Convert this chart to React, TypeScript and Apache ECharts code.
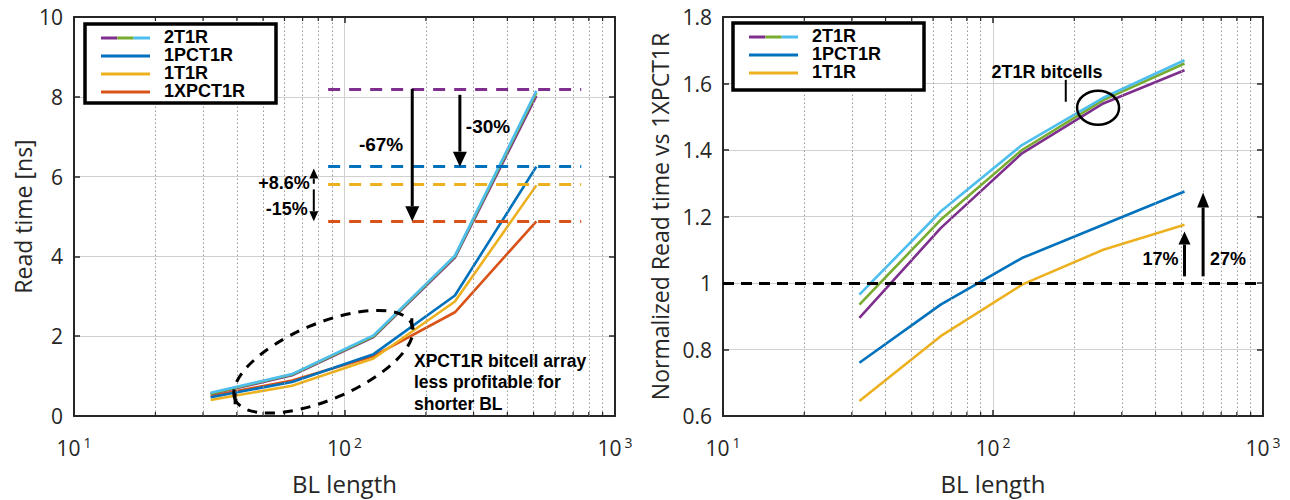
import React, { useEffect, useRef } from "react";
import * as echarts from "echarts";

// ---------- data ----------
const BL_LENGTH = [32, 64, 128, 256, 512];
const X_RANGE = [10, 1000];
const X_MINOR_GRID = [20, 30, 40, 50, 60, 70, 80, 90, 200, 300, 400, 500, 600, 700, 800, 900];

// left panel: read time [ns]
const READ_2T1R_PURPLE = [0.55, 1.02, 1.98, 3.97, 8.02];
const READ_2T1R_GREEN = [0.56, 1.04, 2.0, 4.0, 8.1];
const READ_2T1R_CYAN = [0.58, 1.05, 2.02, 4.02, 8.15];
const READ_1PCT1R = [0.47, 0.85, 1.55, 3.02, 6.25];
const READ_1T1R = [0.4, 0.76, 1.44, 2.87, 5.78];
const READ_1XPCT1R = [0.5, 0.89, 1.5, 2.6, 4.88];

// right panel: normalized read time vs 1XPCT1R
const NORM_2T1R_PURPLE = [0.895, 1.165, 1.39, 1.54, 1.64];
const NORM_2T1R_GREEN = [0.935, 1.19, 1.4, 1.55, 1.66];
const NORM_2T1R_CYAN = [0.965, 1.215, 1.415, 1.557, 1.67];
const NORM_1PCT1R = [0.76, 0.935, 1.075, 1.175, 1.275];
const NORM_1T1R = [0.645, 0.84, 0.995, 1.1, 1.175];

const LEFT_Y = [0, 10, 2];
const RIGHT_Y = [0.6, 1.8, 0.2];

// left reference levels (dashed) and their span in BL
const LEVEL_VALUES = [8.2, 6.25, 5.8, 4.88];
const LEVEL_SPAN = [87, 750];
const NORM_BASELINE = 1;

const COLORS = {
  purple: "#7E2F8E",
  green: "#77AC30",
  cyan: "#4DBEEE",
  blue: "#0072BD",
  yellow: "#EDB120",
  orange: "#D95319",
};
const LEVEL_COLORS = [COLORS.purple, COLORS.blue, COLORS.yellow, COLORS.orange];

const F = '"Open Sans", "Noto Sans", sans-serif';
const FB = '"Liberation Sans", Arial, sans-serif';
const AX = "#262626";

function makeX(gridIndex: number, bottom: boolean) {
  return {
    type: "log",
    logBase: 10,
    gridIndex,
    min: X_RANGE[0],
    max: X_RANGE[1],
    position: bottom ? "bottom" : "top",
    axisLine: { show: true, onZero: false, lineStyle: { color: AX, width: 2 } },
    axisTick: { show: true, inside: true, length: 6, lineStyle: { color: AX, width: 1.5 } },
    axisLabel: bottom
      ? {
          show: true,
          margin: 19,
          formatter: (v: number) => `{b|10}{s|${Math.round(Math.log10(v))}}`,
          rich: {
            b: { fontSize: 21, lineHeight: 22, fontFamily: F, color: AX, padding: [3, 0, 0, 0] },
            s: { fontSize: 14, lineHeight: 14, fontFamily: F, color: AX, verticalAlign: "top", padding: [0, 0, 0, 3] },
          },
        }
      : { show: false },
    splitLine: { show: bottom, lineStyle: { color: "#d0d0d0", width: 1 } },
    name: bottom ? "BL length" : "",
    nameLocation: "middle",
    nameGap: 55,
    nameTextStyle: { fontFamily: F, fontSize: 24, color: AX },
  };
}

function makeY(gridIndex: number, left: boolean, range: number[], name: string, nameGap: number) {
  return {
    type: "value",
    gridIndex,
    min: range[0],
    max: range[1],
    interval: range[2],
    position: left ? "left" : "right",
    axisLine: { show: true, onZero: false, lineStyle: { color: AX, width: 2 } },
    axisTick: { show: true, inside: true, length: 6, lineStyle: { color: AX, width: 1.5 } },
    axisLabel: left
      ? {
          show: true,
          margin: 11,
          fontSize: 21,
          fontFamily: F,
          color: AX,
          formatter: (v: number) => {
            const r = Math.round(v * 10) / 10;
            return Number.isInteger(r) ? String(r) : r.toFixed(1);
          },
        }
      : { show: false },
    splitLine: { show: left, lineStyle: { color: "#d0d0d0", width: 1 } },
    name: left ? name : "",
    nameLocation: "middle",
    nameGap,
    nameTextStyle: { fontFamily: F, fontSize: 23, color: AX },
  };
}

function lineSeries(name: string, vals: number[], color: string, ai: number) {
  return {
    type: "line",
    name,
    xAxisIndex: ai,
    yAxisIndex: ai,
    data: BL_LENGTH.map((b, i) => [b, vals[i]]),
    symbol: "none",
    showSymbol: false,
    silent: true,
    z: 3,
    lineStyle: { color, width: 2.6 },
    itemStyle: { color },
  };
}

function minorGrid(ai: number) {
  return {
    type: "line",
    xAxisIndex: ai,
    yAxisIndex: ai,
    data: [],
    silent: true,
    z: 1,
    markLine: {
      silent: true,
      symbol: ["none", "none"],
      label: { show: false },
      animation: false,
      lineStyle: { color: "#999", width: 1, type: [1.5, 2.5] },
      data: X_MINOR_GRID.map((v) => ({ xAxis: v })),
    },
  };
}

export default function App() {
  const ref = useRef<HTMLDivElement>(null);
  useEffect(() => {
    document.body.style.margin = "0";
    const chart = echarts.init(ref.current!, null, { renderer: "svg" });
    const option: any = {
      animation: false,
      backgroundColor: "#fff",
      grid: [
        { left: 74, top: 17, width: 541, height: 400, containLabel: false },
        { left: 723, top: 17, width: 540, height: 400, containLabel: false },
      ],
      xAxis: [makeX(0, true), makeX(0, false), makeX(1, true), makeX(1, false)],
      yAxis: [
        makeY(0, true, LEFT_Y, "Read time [ns]", 40),
        makeY(0, false, LEFT_Y, "", 0),
        makeY(1, true, RIGHT_Y, "Normalized Read time vs 1XPCT1R", 52),
        makeY(1, false, RIGHT_Y, "", 0),
      ],
      series: [
        minorGrid(0),
        minorGrid(2),
        {
          type: "line",
          xAxisIndex: 0,
          yAxisIndex: 0,
          data: [],
          silent: true,
          z: 2,
          markLine: {
            silent: true,
            symbol: ["none", "none"],
            label: { show: false },
            lineStyle: { width: 3, type: [12, 9] },
            data: LEVEL_VALUES.map((v, i) => [
              { coord: [LEVEL_SPAN[0], v], lineStyle: { color: LEVEL_COLORS[i], width: 3, type: [12, 9] } },
              { coord: [LEVEL_SPAN[1], v] },
            ]),
          },
        },
        {
          type: "line",
          xAxisIndex: 2,
          yAxisIndex: 2,
          data: [],
          silent: true,
          z: 2,
          markLine: {
            silent: true,
            symbol: ["none", "none"],
            label: { show: false },
            lineStyle: { color: "#000", width: 3, type: [11, 7] },
            data: [{ yAxis: NORM_BASELINE }],
          },
        },
        lineSeries("1XPCT1R", READ_1XPCT1R, COLORS.orange, 0),
        lineSeries("1T1R", READ_1T1R, COLORS.yellow, 0),
        lineSeries("1PCT1R", READ_1PCT1R, COLORS.blue, 0),
        lineSeries("2T1R a", READ_2T1R_PURPLE, COLORS.purple, 0),
        lineSeries("2T1R b", READ_2T1R_GREEN, COLORS.green, 0),
        lineSeries("2T1R c", READ_2T1R_CYAN, COLORS.cyan, 0),
        lineSeries("1T1R", NORM_1T1R, COLORS.yellow, 2),
        lineSeries("1PCT1R", NORM_1PCT1R, COLORS.blue, 2),
        lineSeries("2T1R a", NORM_2T1R_PURPLE, COLORS.purple, 2),
        lineSeries("2T1R b", NORM_2T1R_GREEN, COLORS.green, 2),
        lineSeries("2T1R c", NORM_2T1R_CYAN, COLORS.cyan, 2),
      ],
    };
    chart.setOption(option);

    const P = (side: number, x: number, y: number) =>
      chart.convertToPixel(side === 0 ? { xAxisIndex: 0, yAxisIndex: 0 } : { xAxisIndex: 2, yAxisIndex: 2 }, [x, y]) as number[];

    const g: any[] = [];
    const line = (x1: number, y1: number, x2: number, y2: number, stroke: string, w: number, dash?: number[]) =>
      g.push({ type: "line", z: 50, silent: true, shape: { x1, y1, x2, y2 }, style: { stroke, lineWidth: w, lineDash: dash } });
    const text = (t: string, x: number, y: number, size: number, align: string, vAlign = "middle", lh?: number) =>
      g.push({
        type: "text",
        z: 60,
        silent: true,
        style: {
          text: t, x, y, fontSize: size, fontWeight: "bold", fontFamily: FB, fill: "#000",
          align, textAlign: align, verticalAlign: vAlign, textVerticalAlign: vAlign, lineHeight: lh,
        },
      });
    const arrow = (p0: number[], p1: number[], head: number, half: number, w: number) => {
      const dx = p1[0] - p0[0], dy = p1[1] - p0[1];
      const L = Math.hypot(dx, dy);
      const ux = dx / L, uy = dy / L;
      const bx = p1[0] - ux * head, by = p1[1] - uy * head;
      const nx = -uy, ny = ux;
      line(p0[0], p0[1], bx, by, "#000", w);
      g.push({
        type: "polygon", z: 50, silent: true,
        shape: { points: [[p1[0], p1[1]], [bx + nx * half, by + ny * half], [bx - nx * half, by - ny * half]] },
        style: { fill: "#000" },
      });
    };

    // minor ticks on bottom/top edges
    [0, 1].forEach((side) => {
      const yr = side === 0 ? LEFT_Y : RIGHT_Y;
      const yb = P(side, 100, yr[0])[1];
      const yt = P(side, 100, yr[1])[1];
      X_MINOR_GRID.forEach((v) => {
        const px = P(side, v, yr[0])[0];
        line(px, yb, px, yb - 4, AX, 1.2);
        line(px, yt, px, yt + 4, AX, 1.2);
      });
    });

    // ---- left annotations ----
    const a67x = 178, a30x = 267, a86x = 77;
    let p0 = P(0, a67x, LEVEL_VALUES[0]), p1 = P(0, a67x, LEVEL_VALUES[3]);
    arrow(p0, p1, 15, 7, 3);
    text("-67%", p0[0] - 9, P(0, a67x, 6.8)[1], 19, "right");
    p0 = P(0, a30x, 8.05); p1 = P(0, a30x, LEVEL_VALUES[1]);
    arrow(p0, p1, 15, 7, 3);
    text("-30%", p0[0] + 6, P(0, a30x, 7.25)[1], 19, "left");
    p0 = P(0, a86x, 5.82); p1 = P(0, a86x, LEVEL_VALUES[1] - 0.05);
    arrow(p0, p1, 10, 4.5, 2);
    text("+8.6%", p0[0] - 4, P(0, a86x, 5.85)[1], 18, "right");
    p0 = P(0, a86x, 5.68); p1 = P(0, a86x, LEVEL_VALUES[3]);
    arrow(p0, p1, 10, 4.5, 2);
    text("-15%", p0[0] - 6, P(0, a86x, 5.18)[1], 18, "right");

    // dashed ellipse
    const ec = P(0, 83.6, 1.36);
    const rot = (23 * Math.PI) / 180;
    g.push({
      type: "ellipse", z: 50, silent: true, x: ec[0], y: ec[1], rotation: rot,
      shape: { cx: 0, cy: 0, rx: 96, ry: 38 },
      style: { fill: "transparent", stroke: "#000", lineWidth: 3, lineDash: [10, 8] },
    });
    const ex = 96 * Math.cos(rot), ey = 96 * Math.sin(rot);
    line(ec[0] - ex, ec[1] + ey - 6, ec[0] - ex, ec[1] + ey + 5, "#000", 3);
    line(ec[0] + ex, ec[1] - ey - 6, ec[0] + ex, ec[1] - ey + 5, "#000", 3);
    const tp = P(0, 180.7, 1.66);
    text("XPCT1R bitcell array\nless profitable for\nshorter BL", tp[0], tp[1], 17.5, "left", "top", 21.5);

    // ---- right annotations ----
    const tb = P(1, 158.5, 1.635);
    text("2T1R bitcells", tb[0], tb[1], 18, "center");
    const l0 = P(1, 186, 1.611), l1 = P(1, 186, 1.545);
    line(l0[0], l0[1], l1[0], l1[1], "#000", 2);
    const cc = P(1, 245, 1.527);
    g.push({
      type: "ellipse", z: 50, silent: true,
      shape: { cx: cc[0], cy: cc[1], rx: 21, ry: 17 },
      style: { fill: "transparent", stroke: "#000", lineWidth: 2.5 },
    });
    p0 = P(1, 512, 1.02); p1 = P(1, 512, 1.155);
    arrow(p0, p1, 13, 6, 3);
    text("17%", p0[0] - 6, P(1, 512, 1.071)[1], 18, "right");
    p0 = P(1, 600, 1.02); p1 = P(1, 600, 1.272);
    arrow(p0, p1, 15, 6, 3);
    text("27%", p0[0] + 7, P(1, 600, 1.071)[1], 18, "left");

    // ---- legends ----
    const legend = (bx: number, by: number, bw: number, bh: number, lx0: number, lx1: number, tx: number, rows: { label: string; colors: string[]; y: number }[]) => {
      g.push({
        type: "rect", z: 90, silent: true,
        shape: { x: bx, y: by, width: bw, height: bh },
        style: { fill: "#fff", stroke: "#000", lineWidth: 3.5 },
      });
      rows.forEach((r) => {
        const n = r.colors.length;
        const seg = (lx1 - lx0) / n;
        r.colors.forEach((c, i) =>
          g.push({
            type: "line", z: 95, silent: true,
            shape: { x1: lx0 + seg * i, y1: r.y + 1, x2: lx0 + seg * (i + 1), y2: r.y + 1 },
            style: { stroke: c, lineWidth: 3 },
          })
        );
        g.push({
          type: "text", z: 96, silent: true,
          style: {
            text: r.label, x: tx, y: r.y, fontSize: 18, fontWeight: "bold", fontFamily: FB, fill: "#000",
            align: "left", textAlign: "left", verticalAlign: "middle", textVerticalAlign: "middle",
          },
        });
      });
    };
    const tri = [COLORS.purple, COLORS.green, COLORS.cyan];
    legend(85, 24, 191, 79, 101, 150, 164, [
      { label: "2T1R", colors: tri, y: 37 },
      { label: "1PCT1R", colors: [COLORS.blue], y: 55 },
      { label: "1T1R", colors: [COLORS.yellow], y: 73 },
      { label: "1XPCT1R", colors: [COLORS.orange], y: 91 },
    ]);
    legend(733, 23, 191, 67, 749, 798, 812, [
      { label: "2T1R", colors: tri, y: 36 },
      { label: "1PCT1R", colors: [COLORS.blue], y: 54 },
      { label: "1T1R", colors: [COLORS.yellow], y: 72 },
    ]);

    chart.setOption({ graphic: { elements: g } });
    return () => chart.dispose();
  }, []);
  return <div ref={ref} style={{ width: 1290, height: 500 }} />;
}
